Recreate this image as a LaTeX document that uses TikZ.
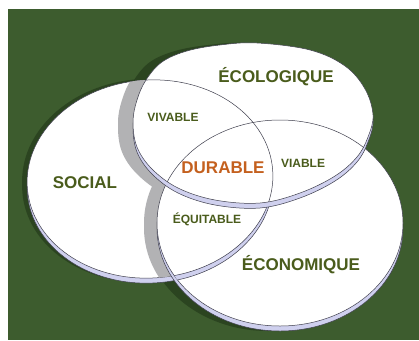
\documentclass[tikz,border=0pt]{standalone}
\usepackage{fontspec}
\setmainfont{Liberation Sans}
\definecolor{bggreen}{HTML}{3D5C2E}
\definecolor{groundshade}{HTML}{2B4420}
\definecolor{discshade}{HTML}{B2B2B4}
\definecolor{sidelav}{HTML}{CFD0EE}
\definecolor{rimgray}{HTML}{3E3E4C}
\definecolor{wordgreen}{HTML}{4A5C1C}
\definecolor{wordorange}{HTML}{C4601E}
\newcommand{\socrim}[1]{(150,179+#1) ellipse [x radius=123, y radius=99, rotate=4]}
\newcommand{\ecorim}[1]{(280,223+#1) ellipse [x radius=123, y radius=103]}
\newcommand{\ecolrim}{plot [smooth cycle,tension=0.6] coordinates {(257,43) (310,50) (345,66) (365,89) (373,115)
	(368,137) (357,157) (335,176) (300,193) (260,203) (215,200) (178,188) (152,169) (137,147) (133,122)
	(137,100) (146,80) (162,62) (187,51) (220,45)}}

\begin{document}
\begin{tikzpicture}[x=1pt,y=-1pt,
		rim/.style={draw=rimgray,line width=0.5pt},
		topface/.style={rim,fill=white},
		sideface/.style={rim,fill=sidelav},
		bigword/.style={font=\fontsize{17}{20}\selectfont\bfseries,text=wordgreen},
		smallword/.style={font=\fontsize{12}{14}\selectfont\bfseries,text=wordgreen}]
		\useasboundingbox (0,0) rectangle (419,340);
		\fill [white] (0,0) rectangle (419,340);
		\fill [bggreen] (8,9) rectangle (419,340);
		% shadows on the ground
		\fill [groundshade][shift={(-5,-1)}] \socrim{0} \socrim{5};
		\fill [groundshade][shift={(-12,0)}] \ecorim{0} \ecorim{5};
		\fill [groundshade][shift={(-12,0)}] \ecolrim;
		\fill [groundshade][shift={(-12,5)}] \ecolrim;
		% social
		\path [sideface] \socrim{5};
		\path [topface] \socrim{0};
		\begin{scope}
			\clip \socrim{0};
			\fill [discshade][shift={(-13,0)}] \ecorim{0} \ecorim{5};
			\fill [discshade][shift={(-15,0)}] \ecolrim;
			\fill [discshade][shift={(-15,5)}] \ecolrim;
		\end{scope}
		% economique
		\path [sideface] \ecorim{5};
		\path [topface] \ecorim{0};
		\begin{scope}
			\clip \ecorim{0};
			\path [sideface][even odd rule] \socrim{5} \socrim{0};
		\end{scope}
		% ecologique
		\path [sideface][shift={(0,5)}] \ecolrim;
		\path [topface] \ecolrim;
		\begin{scope}
			\clip \ecolrim;
			\draw [rim] \socrim{0};
			\draw [rim] \ecorim{0};
		\end{scope}
		\node [bigword] (ecol) at (276,77) {ÉCOLOGIQUE};
		\node [bigword] (soc) at (85,183) {SOCIAL};
		\node [bigword] (econ) at (301,265) {ÉCONOMIQUE};
		\node [bigword,text=wordorange] (dur) at (223,168) {DURABLE};
		\node [smallword] (viv) at (173,117) {VIVABLE};
		\node [smallword] (via) at (303,163) {VIABLE};
		\node [smallword] (equ) at (207,219) {ÉQUITABLE};
	\end{tikzpicture}
\end{document}
